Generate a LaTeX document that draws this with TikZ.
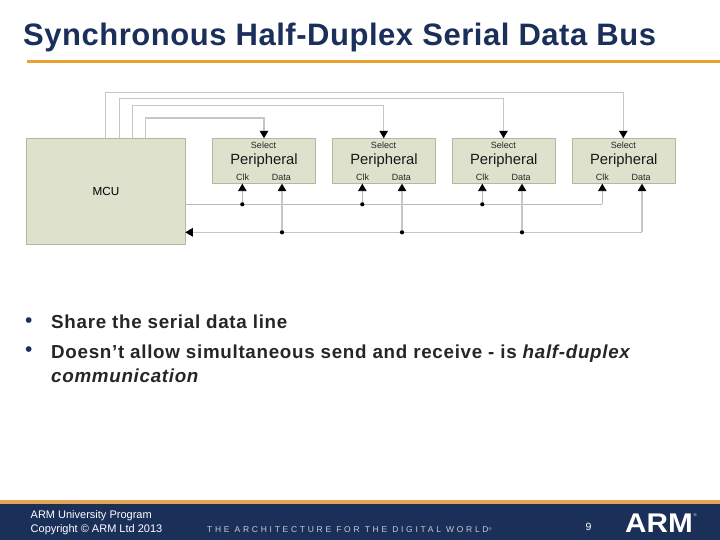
\documentclass[tikz,border=0pt]{standalone}
\usepackage{fontspec}
\setmainfont{Liberation Sans}
\usetikzlibrary{arrows.meta}
\definecolor{boxfill}{HTML}{DEE1CC}
\definecolor{boxline}{HTML}{B4B7A2}
\definecolor{wire}{HTML}{C6C6C4}
\definecolor{wirethin}{HTML}{B8B8B4}
\definecolor{titleblue}{HTML}{1B2F5B}
\definecolor{barblue}{HTML}{1B3059}
\definecolor{barorange}{HTML}{E5A355}
\definecolor{ruleorange}{HTML}{EBA032}
\tikzset{
  x=1pt,y=-1pt,
  mcubox/.style={draw=boxline,fill=boxfill,line width=1pt,minimum width=158.6pt,minimum height=106pt,inner sep=0pt,font=\fontsize{11.7}{14}\selectfont},
  perbox/.style={draw=boxline,fill=boxfill,line width=1pt,minimum width=102.6pt,minimum height=45.4pt,inner sep=0pt},
  small/.style={inner sep=0pt,font=\fontsize{9}{10}\selectfont,text=black!85},
  big/.style={inner sep=0pt,font=\fontsize{14.8}{16}\selectfont,text=black!90},
  wireline/.style={draw=wire,line width=1.2pt},
  thinwire/.style={draw=wirethin,line width=0.9pt},
  tip/.style={-{Triangle[length=7.5pt,width=8.5pt,color=black]}},
  joint/.style={circle,fill=black,inner sep=0pt,minimum size=4.2pt},
  bullet/.style={anchor=base west,inner sep=0pt,font=\bfseries\fontsize{18.8}{22}\selectfont\addfontfeature{LetterSpace=3.7},text=black!85},
  dotmark/.style={anchor=base west,inner sep=0pt,text=titleblue,font=\fontsize{21}{21}\selectfont},
  foot/.style={anchor=base west,inner sep=0pt,font=\fontsize{11}{12}\selectfont,text=white}
}
\begin{document}
\begin{tikzpicture}
\useasboundingbox (0,0) rectangle (720,540);
\fill[white] (0,0) rectangle (720,540);
% title
\node[anchor=base west,inner sep=0pt,text=titleblue,font=\bfseries\fontsize{31}{34}\selectfont\addfontfeature{LetterSpace=1.7}] (title) at (23,46) {Synchronous Half-Duplex Serial Data Bus};
\fill[ruleorange] (27,60.4) rectangle (720,62.6);
% boxes
\node[mcubox] (mcu) at (106,191.3) {MCU};
\foreach \n/\cx in {a/264,b/384,c/503.8,d/623.8}{
  \node[perbox] (\n) at (\cx,161) {};
  \node[small] (\n sel) at (\cx-0.5,145.3) {Select};
  \node[big] (\n per) at (\cx,160.3) {Peripheral};
  \node[small] (\n clk) at (\cx-21.4,177.3) {Clk};
  \node[small] (\n dat) at (\cx+17.3,177.3) {Data};
}
% select wires
\coordinate (s1) at (105.7,138.3); \coordinate (s2) at (119.3,138.3); \coordinate (s3) at (132.3,138.3); \coordinate (s4) at (145.7,138.3);
\draw[wireline,tip] (s1) |- (623.3,92.3) -- (623.3,138.3);
\draw[wireline,tip] (s2) |- (503.5,98.3) -- (503.5,138.3);
\draw[wireline,tip] (s3) |- (383.7,105.3) -- (383.7,138.3);
\draw[wireline,tip] (s4) |- (264,118) -- (264,138.3);
% clock bus
\coordinate (cm) at (185.3,204.3);
\coordinate (dm) at (185.3,232.3);
\coordinate (ce) at (602.3,204.3);
\coordinate (de) at (642,232.3);
\draw[thinwire] (cm) -- (ce);
\draw[thinwire,tip] (ce) -- (602.3,183.7);
\foreach \x/\n in {242.3/a,362.3/b,482.3/c}{
  \node[joint] (j\n) at (\x,204.3) {};
  \draw[thinwire,tip] (j\n) -- (\x,183.7);
}
% data bus
\draw[wireline,tip] (de) -- (dm);
\draw[wireline,tip] (de) -- (642,183.7);
\foreach \x/\n in {282/a,402/b,522/c}{
  \node[joint] (k\n) at (\x,232.3) {};
  \draw[wireline,tip] (k\n) -- (\x,183.7);
}
% bullets
\node[dotmark] (b1) at (25,327.5) {•};
\node[dotmark] (b2) at (25,356.5) {•};
\node[bullet] (t1) at (51,328) {Share the serial data line};
\node[bullet] (t2) at (51,358) {Doesn’t allow simultaneous send and receive - is \textit{half-duplex}};
\node[bullet] (t3) at (51,382) {\textit{communication}};
% footer
\fill[barblue] (0,503) rectangle (720,540);
\fill[barorange] (0,500) rectangle (720,503.5);
\node[foot] (f1) at (30.5,518) {ARM University Program};
\node[foot] (f2) at (30.5,532) {Copyright © ARM Ltd 2013};
\node[anchor=base west,inner sep=0pt,text=white!75!barblue,font=\fontsize{8.5}{9}\selectfont\addfontfeature{LetterSpace=32}] (f3) at (207,532.5) {THE ARCHITECTURE FOR THE DIGITAL WORLD\raisebox{2pt}{\fontsize{4}{4}\selectfont®}};
\node[anchor=base,inner sep=0pt,text=white,font=\fontsize{10.5}{12}\selectfont] (pg) at (588.5,530) {9};
\node[anchor=base west,inner sep=0pt,text=white,font=\bfseries\fontsize{27}{27}\selectfont] (logo) at (625,532) {\scalebox{1.1}[1]{ARM}};
\node[anchor=base west,inner sep=0pt,text=white,font=\fontsize{4}{4}\selectfont] (logor) at (693.5,516) {®};
\end{tikzpicture}
\end{document}
